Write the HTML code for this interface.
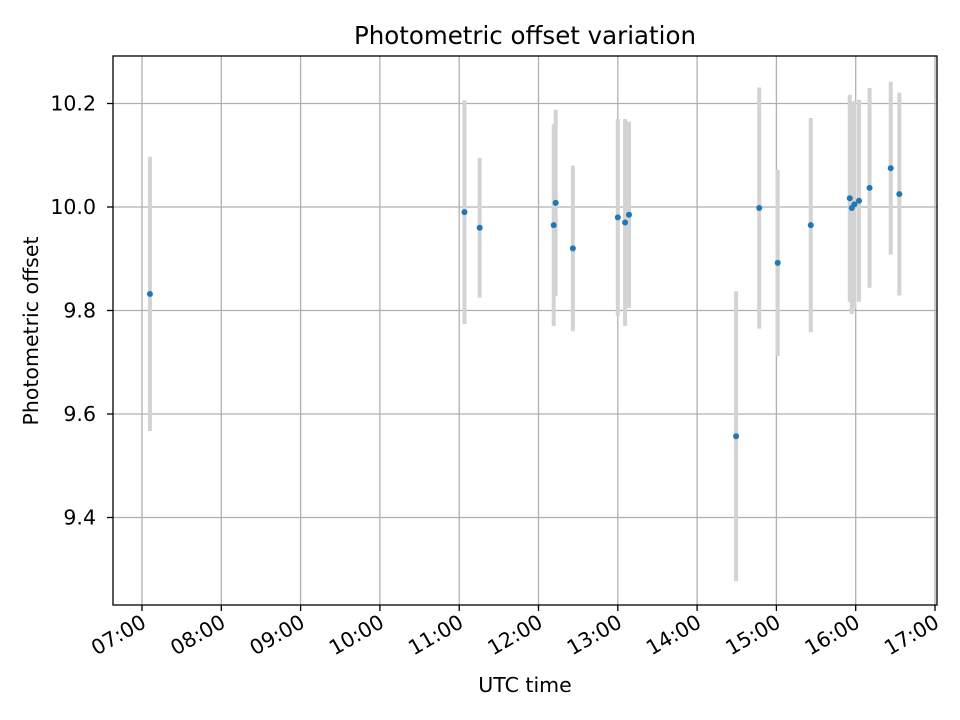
<!DOCTYPE html>
<html><head><meta charset="utf-8">
<style>
html,body{margin:0;padding:0;background:#fff;}
svg{display:block;font-family:"DejaVu Sans","Liberation Sans",sans-serif;}
</style></head>
<body>
<svg id="chart" width="960" height="720" viewBox="0 0 960 720" xmlns="http://www.w3.org/2000/svg">
<rect width="960" height="720" fill="#fff"/>
<text x="525" y="44" font-size="24.5" text-anchor="middle" fill="#000">Photometric offset variation</text>
<g id="grid"></g>
<g id="bars"></g>
<g id="points"></g>
<rect x="113" y="56" width="824" height="549" fill="none" stroke="#000" stroke-width="1.3"/>
<g id="xticks"></g>
<g id="yticks"></g>
<text x="525" y="692" font-size="20.5" text-anchor="middle">UTC time</text>
<text transform="translate(38,331) rotate(-90)" font-size="20.5" text-anchor="middle">Photometric offset</text>
</svg>
<script>
// data: times in minutes after midnight UTC
const times = [426,664,675.5,731.5,733,746,780,785.5,788.5,869.5,887,901,926,955.5,957,959,962.5,970.5,986.5,993];
const offsets = [9.832,9.99,9.96,9.965,10.008,9.92,9.98,9.97,9.985,9.557,9.998,9.892,9.965,10.017,9.998,10.005,10.012,10.037,10.075,10.025];
const errors = [0.265,0.216,0.135,0.195,0.18,0.16,0.19,0.2,0.18,0.28,0.233,0.18,0.207,0.2,0.205,0.2,0.195,0.193,0.167,0.196];
const xTickLabels = ["07:00","08:00","09:00","10:00","11:00","12:00","13:00","14:00","15:00","16:00","17:00"];
const xTickMinutes = [420,480,540,600,660,720,780,840,900,960,1020];
const yTickValues = [9.4,9.6,9.8,10.0,10.2];
const yTickLabels = ["9.4","9.6","9.8","10.0","10.2"];

const NS="http://www.w3.org/2000/svg";
function xs(m){return 142+(m-420)*(793/600);}
function ys(v){return 207-(v-10)*517.5;}
function mk(tag,attrs,parent){const e=document.createElementNS(NS,tag);for(const k in attrs)e.setAttribute(k,attrs[k]);parent.appendChild(e);return e;}
const grid=document.getElementById('grid'),bars=document.getElementById('bars'),pts=document.getElementById('points'),xt=document.getElementById('xticks'),yt=document.getElementById('yticks');

xTickMinutes.forEach((m,i)=>{
  const x=xs(m);
  const g=mk('line',{x1:x,x2:x,y1:56,y2:605,stroke:'#b0b0b0','stroke-width':1.3},grid);
  
  
  const t=mk('line',{x1:x,x2:x,y1:605,y2:611,stroke:'#000','stroke-width':1.3},xt);
  
  
  const l=mk('text',{transform:`translate(${x-2},${613}) rotate(-30)`,'font-size':20.5,'text-anchor':'end','dominant-baseline':'hanging'},xt);
  l.textContent=xTickLabels[i];
  
  
});
yTickValues.forEach((v,i)=>{
  const y=ys(v);
  const g=mk('line',{x1:113,x2:937,y1:y,y2:y,stroke:'#b0b0b0','stroke-width':1.3},grid);
  
  
  const t=mk('line',{x1:107,x2:113,y1:y,y2:y,stroke:'#000','stroke-width':1.3},yt);
  
  
  const l=mk('text',{x:96,y:y+7,'font-size':20.5,'text-anchor':'end'},yt);
  l.textContent=yTickLabels[i];
  
  
});
times.forEach((m,i)=>{
  const x=xs(m);
  const b=mk('line',{x1:x,x2:x,y1:ys(offsets[i]+errors[i]),y2:ys(offsets[i]-errors[i]),stroke:'#d3d3d3','stroke-width':4},bars);
  
  
});
times.forEach((m,i)=>{
  const c=mk('circle',{cx:xs(m),cy:ys(offsets[i]),r:3,fill:'#1f77b4'},pts);
  
  
});
</script>
</body></html>
